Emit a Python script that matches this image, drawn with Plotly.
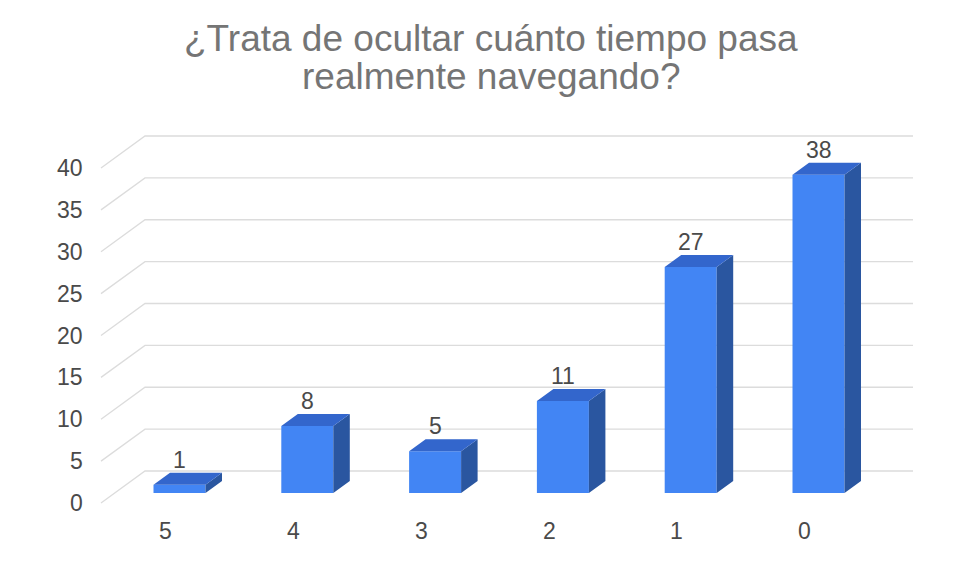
import plotly.graph_objects as go

# ---- data ----
categories = ["5", "4", "3", "2", "1", "0"]
values = [1, 8, 5, 11, 27, 38]
y_ticks = [0, 5, 10, 15, 20, 25, 30, 35, 40]
title_lines = ["¿Trata de ocultar cuánto tiempo pasa", "realmente navegando?"]

# ---- geometry (page-pixel calibration of the oblique projection) ----
PAGE_W, PAGE_H = 954, 561
OFF = 8                      # default body margin of the html page
W, H = PAGE_W - OFF, PAGE_H - OFF
X0, XS = 179.5, 127.8        # page px of category 0 centre, px per category
Y0, YS = 493.0, 8.375        # page px of value 0 (bar plane), px per unit
DEPTH_X = 44 / XS            # full floor depth in x (category units)
DEPTH_Y = 32 / YS            # full floor depth in y (value units)
BAR_D0, BAR_D1 = 10 / 32, 22 / 32
HALF_W = 26 / XS

FRONT = "#4285F4"
TOP = "#3366CC"
SIDE = "#2A56A0"
GRID = "#dcdcdc"
LABEL = "#4a4a4a"
TITLE = "#757575"
FONT = "Liberation Sans, Arial, sans-serif"


def proj(x, v, d):
    return x + (d - BAR_D0) * DEPTH_X, v + (d - BAR_D0) * DEPTH_Y


def px2x(p):
    return (p - X0) / XS


def py2v(p):
    return (Y0 - p) / YS


fig = go.Figure()

# grid: diagonal on the left wall + horizontal on the back wall (below traces)
x_left_front = px2x(101) - proj(0, 0, 0)[0]
x_right_back = px2x(913) - proj(0, 0, 1)[0]
shapes = []
for v in y_ticks:
    a = proj(x_left_front, v, 0)
    b = proj(x_left_front, v, 1)
    c = proj(x_right_back, v, 1)
    path = f"M{a[0]},{a[1]} L{b[0]},{b[1]} L{c[0]},{c[1]}"
    shapes.append(dict(type="path", path=path, xref="x", yref="y",
                       line=dict(color=GRID, width=1.3), layer="below"))

idx = list(range(len(categories)))

# front faces
fig.add_trace(go.Bar(x=idx, y=values, width=2 * HALF_W,
                     marker=dict(color=FRONT, line=dict(width=0)),
                     hoverinfo="skip", showlegend=False))

# side and top faces
sx, sy, tx, ty = [], [], [], []
for i, v in zip(idx, values):
    fl, fr = i - HALF_W, i + HALF_W
    p1 = proj(fr, 0, BAR_D0); p2 = proj(fr, v, BAR_D0)
    p3 = proj(fr, v, BAR_D1); p4 = proj(fr, 0, BAR_D1)
    sx += [p1[0], p2[0], p3[0], p4[0], p1[0], None]
    sy += [p1[1], p2[1], p3[1], p4[1], p1[1], None]
    q1 = proj(fl, v, BAR_D0); q2 = proj(fr, v, BAR_D0)
    q3 = proj(fr, v, BAR_D1); q4 = proj(fl, v, BAR_D1)
    tx += [q1[0], q2[0], q3[0], q4[0], q1[0], None]
    ty += [q1[1], q2[1], q3[1], q4[1], q1[1], None]
fig.add_trace(go.Scatter(x=sx, y=sy, mode="lines", fill="toself",
                         fillcolor=SIDE, line=dict(width=0, color=SIDE),
                         hoverinfo="skip", showlegend=False))
fig.add_trace(go.Scatter(x=tx, y=ty, mode="lines", fill="toself",
                         fillcolor=TOP, line=dict(width=0, color=TOP),
                         hoverinfo="skip", showlegend=False))

annotations = []
# y tick labels (front plane)
for v in y_ticks:
    x, y = proj(px2x(85) - proj(0, 0, 0)[0], v, 0)
    annotations.append(dict(x=x, y=y, xref="x", yref="y", text=str(v),
                            showarrow=False, xanchor="right", yanchor="middle",
                            font=dict(family=FONT, size=23, color=LABEL)))
# category labels (front plane)
for i, c in zip(idx, categories):
    x, _ = proj(i, 0, 0)
    annotations.append(dict(x=x, y=py2v(531), xref="x", yref="y", text=c,
                            showarrow=False, xanchor="center", yanchor="middle",
                            font=dict(family=FONT, size=23, color=LABEL)))
# value labels
for i, v in zip(idx, values):
    annotations.append(dict(x=i, y=v + 25 / YS, xref="x", yref="y", text=str(v),
                            showarrow=False, xanchor="center", yanchor="middle",
                            font=dict(family=FONT, size=23, color=LABEL)))
# title
for line, yc in zip(title_lines, [39, 76]):
    annotations.append(dict(x=(491 - OFF) / W, y=1 - (yc - OFF) / H,
                            xref="paper", yref="paper",
                            text=line, showarrow=False, xanchor="center",
                            yanchor="middle",
                            font=dict(family=FONT, size=37, color=TITLE)))

fig.update_layout(
    width=W, height=H,
    margin=dict(l=0, r=0, t=0, b=0),
    paper_bgcolor="white", plot_bgcolor="white",
    xaxis=dict(range=[px2x(OFF), px2x(OFF + W)], visible=False, fixedrange=True),
    yaxis=dict(range=[py2v(OFF + H), py2v(OFF)], visible=False, fixedrange=True),
    annotations=annotations,
    shapes=shapes,
    showlegend=False,
)

fig.write_html("out.html")
